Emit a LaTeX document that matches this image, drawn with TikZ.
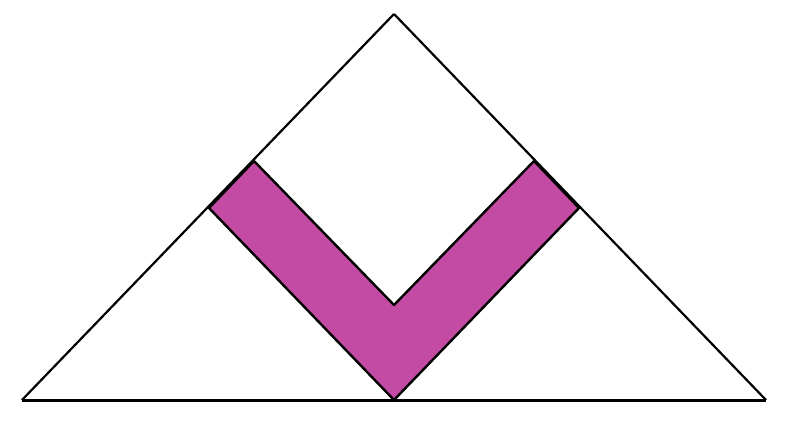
\documentclass[tikz,border=0pt]{standalone}
\definecolor{vmag}{RGB}{196,75,163}
\begin{document}
\begin{tikzpicture}[x=1pt,y=-1pt,
  outline/.style={draw=black,line width=2.2pt,line join=round},
  band/.style={fill=vmag,draw=black,line width=2.4pt,line join=round}]
\useasboundingbox (0,0) rectangle (785,424);
\coordinate (apex) at (394,14);
\coordinate (bl) at (22,400);
\coordinate (br) at (766,400);
\coordinate (lo) at (209,208);
\coordinate (lt) at (254,161);
\coordinate (iv) at (394,305);
\coordinate (rt) at (534,161);
\coordinate (ro) at (579,208);
\coordinate (bv) at (394,400);
\draw[band] (lo) -- (lt) -- (iv) -- (rt) -- (ro) -- (bv) -- cycle;
\draw[outline] (apex) -- (bl);
\draw[outline] (apex) -- (br);
\draw[draw=black,line width=3pt] (bl) -- (br);
\end{tikzpicture}
\end{document}
